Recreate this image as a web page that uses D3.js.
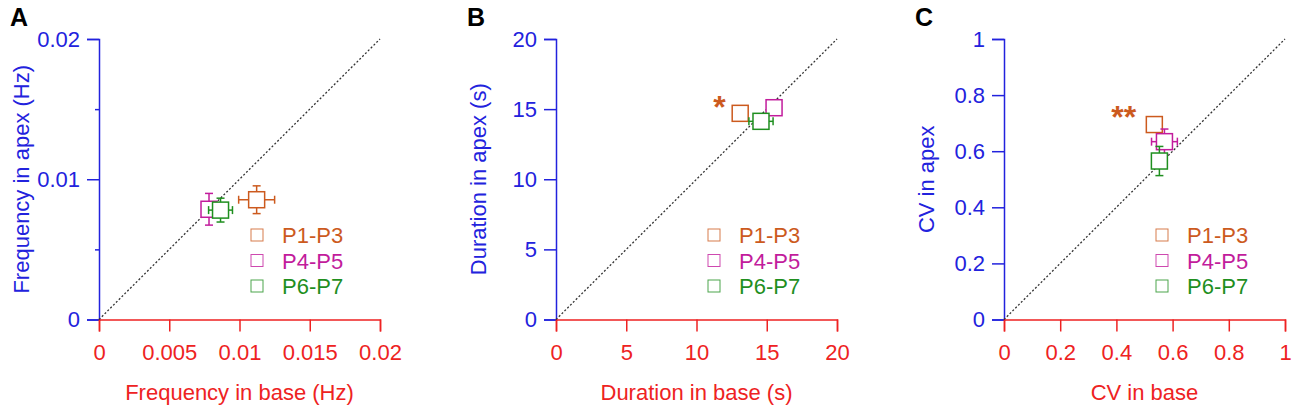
<!DOCTYPE html>
<html>
<head>
<meta charset="utf-8">
<script src="https://cdn.jsdelivr.net/npm/d3@7"></script>
<style>
  body { margin: 0; background: #fff; }
  text { font-family: Arial, "Liberation Sans", sans-serif; }
</style>
</head>
<body>
<script>
// groups (postnatal ages)
var groups = ["P1-P3", "P4-P5", "P6-P7"];
var groupColors = ["#cc5a1e", "#c21c9c", "#1f8f1f"];

// panel A: frequency
var freqBase = [0.01122, 0.00783, 0.00865];
var freqBaseErr = [0.00128, 0.0004, 0.00085];
var freqApex = [0.00854, 0.00786, 0.00780];
var freqApexErr = [0.00099, 0.00113, 0.00085];
var freqXTicks = [0, 0.005, 0.01, 0.015, 0.02];
var freqYTicks = [0, 0.01, 0.02];
var freqYMinor = [0.005, 0.015];

// panel B: duration
var durBase = [13.11, 15.52, 14.59];
var durBaseErr = [0.4, 0.45, 0.86];
var durApex = [14.70, 15.10, 14.13];
var durApexErr = [0.4, 0.4, 0.3];
var durTicks = [0, 5, 10, 15, 20];

// panel C: CV
var cvBase = [0.535, 0.571, 0.553];
var cvBaseErr = [0.02, 0.046, 0.02];
var cvApex = [0.695, 0.634, 0.565];
var cvApexErr = [0.02, 0.045, 0.052];
var cvTicks = [0, 0.2, 0.4, 0.6, 0.8, 1];

var panels = [
  {letter: "A", left: 99, max: 0.02, xs: freqBase, xe: freqBaseErr, ys: freqApex, ye: freqApexErr,
   xTicks: freqXTicks, yTicks: freqYTicks, yMinor: freqYMinor,
   xTitle: "Frequency in base (Hz)", yTitle: "Frequency in apex (Hz)", sig: null},
  {letter: "B", left: 556, max: 20, xs: durBase, xe: durBaseErr, ys: durApex, ye: durApexErr,
   xTicks: durTicks, yTicks: durTicks, yMinor: [],
   xTitle: "Duration in base (s)", yTitle: "Duration in apex (s)", sig: {text: "*", x: 11.64, y: 15.65}},
  {letter: "C", left: 1004, max: 1, xs: cvBase, xe: cvBaseErr, ys: cvApex, ye: cvApexErr,
   xTicks: cvTicks, yTicks: cvTicks, yMinor: [],
   xTitle: "CV in base", yTitle: "CV in apex", sig: {text: "**", x: 0.426, y: 0.747}}
];

var W = 1300, H = 417;
var plotTop = 39, pw = 281, ph = 280.5;
var blue = "#2222dd", red = "#ee2222";
var sq = 16, capW = 8;

var svg = d3.select("body").append("svg")
  .attr("width", W).attr("height", H);

panels.forEach(function(p) {
  var g = svg.append("g").attr("transform", "translate(" + p.left + "," + plotTop + ")");
  var x = d3.scaleLinear().domain([0, p.max]).range([0, pw]);
  var y = d3.scaleLinear().domain([0, p.max]).range([ph, 0]);
  var fmt = function(d) { return String(d); };

  // panel letter
  svg.append("text")
    .attr("x", p.left - 89).attr("y", 26)
    .attr("font-size", 25).attr("font-weight", "bold")
    .text(p.letter);

  // y axis (blue)
  var yAx = g.append("g")
    .call(d3.axisLeft(y).tickValues(p.yTicks).tickSize(12).tickPadding(7).tickFormat(fmt));
  if (p.yMinor.length) {
    g.append("g")
      .call(d3.axisLeft(y).tickValues(p.yMinor).tickSize(4).tickFormat(""))
      .select(".domain").remove();
  }
  g.selectAll("g").selectAll("path, line").attr("stroke", blue).attr("stroke-width", 1.5);
  yAx.selectAll("text").attr("fill", blue).attr("font-size", 22).attr("font-family", null);

  // x axis (red)
  var xAx = g.append("g")
    .attr("transform", "translate(0," + ph + ")")
    .call(d3.axisBottom(x).tickValues(p.xTicks).tickSize(12).tickPadding(13).tickFormat(fmt));
  xAx.selectAll("path, line").attr("stroke", red).attr("stroke-width", 1.5);
  xAx.selectAll("text").attr("fill", red).attr("font-size", 22).attr("font-family", null);

  // axis titles
  g.append("text")
    .attr("x", pw / 2).attr("y", 400 - plotTop)
    .attr("text-anchor", "middle").attr("fill", red).attr("font-size", 22)
    .text(p.xTitle);
  g.append("text")
    .attr("transform", "translate(-70," + (ph / 2) + ") rotate(-90)")
    .attr("text-anchor", "middle").attr("fill", blue).attr("font-size", 22)
    .text(p.yTitle);

  // unity line
  g.append("line")
    .attr("x1", x(0)).attr("y1", y(0)).attr("x2", x(p.max)).attr("y2", y(p.max))
    .attr("stroke", "#333").attr("stroke-width", 1.3).attr("stroke-dasharray", "2,2");

  // points with error bars
  groups.forEach(function(name, i) {
    var cx = x(p.xs[i]), cy = y(p.ys[i]);
    var x0 = x(p.xs[i] - p.xe[i]), x1 = x(p.xs[i] + p.xe[i]);
    var y0 = y(p.ys[i] - p.ye[i]), y1 = y(p.ys[i] + p.ye[i]);
    var pg = g.append("g").attr("stroke", groupColors[i]).attr("stroke-width", 1.5).attr("fill", "none");
    pg.append("line").attr("x1", x0).attr("x2", x1).attr("y1", cy).attr("y2", cy);
    pg.append("line").attr("x1", x0).attr("x2", x0).attr("y1", cy - capW / 2).attr("y2", cy + capW / 2);
    pg.append("line").attr("x1", x1).attr("x2", x1).attr("y1", cy - capW / 2).attr("y2", cy + capW / 2);
    pg.append("line").attr("x1", cx).attr("x2", cx).attr("y1", y0).attr("y2", y1);
    pg.append("line").attr("x1", cx - capW / 2).attr("x2", cx + capW / 2).attr("y1", y0).attr("y2", y0);
    pg.append("line").attr("x1", cx - capW / 2).attr("x2", cx + capW / 2).attr("y1", y1).attr("y2", y1);
    pg.append("rect")
      .attr("x", cx - sq / 2).attr("y", cy - sq / 2)
      .attr("width", sq).attr("height", sq)
      .attr("fill", "#fff");
  });

  // significance
  if (p.sig) {
    g.append("text")
      .attr("x", x(p.sig.x)).attr("y", y(p.sig.y) + 18)
      .attr("text-anchor", "middle").attr("font-size", 32).attr("font-weight", "bold")
      .attr("fill", groupColors[0])
      .text(p.sig.text);
  }

  // legend
  var leg = g.append("g").attr("transform", "translate(158,196)");
  groups.forEach(function(name, i) {
    var row = leg.append("g").attr("transform", "translate(0," + (i * 25.5) + ")");
    row.append("rect")
      .attr("x", -6).attr("y", -6).attr("width", 12).attr("height", 12)
      .attr("fill", "none").attr("stroke", groupColors[i]).attr("stroke-width", 1).attr("opacity", 0.8);
    row.append("text")
      .attr("x", 25).attr("y", 8)
      .attr("font-size", 22).attr("fill", groupColors[i])
      .text(name);
  });
});
</script>
</body>
</html>
